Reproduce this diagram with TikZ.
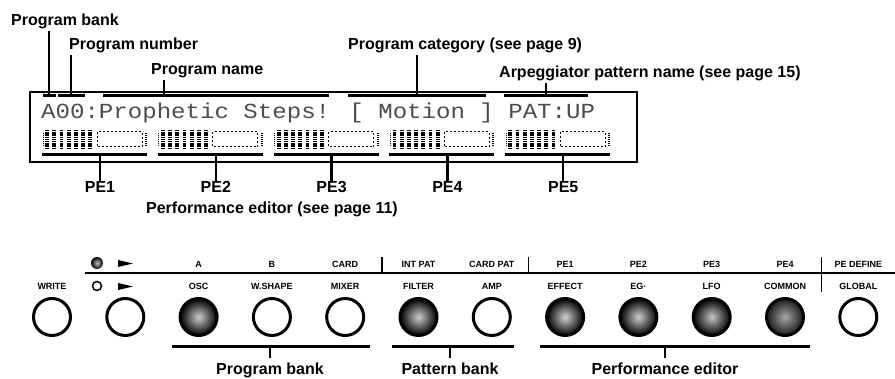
\documentclass[tikz,border=0pt]{standalone}
\usepackage{fontspec}
\setmainfont{Liberation Sans}
\newfontfamily\lcdfont[FakeStretch=1.12]{Liberation Mono}
\usetikzlibrary{positioning,calc}

\begin{document}
\begin{tikzpicture}[x=1pt, y=-1pt,
  lbl/.style={font=\fontsize{16}{18}\selectfont\bfseries, inner sep=1pt, anchor=base},
  key/.style={font=\fontsize{9}{10}\selectfont\bfseries, inner sep=0pt, anchor=base},
  ul/.style={fill, inner sep=0pt, minimum height=3pt, minimum width=#1},
  tick/.style={line width=2.5pt},
  rail/.style={line width=1.5pt},
  btn/.style 2 args={circle, draw, line width=3pt, minimum size=37pt, inner sep=0pt, inner color=#1, outer color=#2}]
  \useasboundingbox (0,0) rectangle (895,379);

  % display labels
  \node[lbl, anchor=base west] (pbank) at (10,26) {Program bank};
  \node[lbl, anchor=base west] (pnum) at (68,50) {Program number};
  \node[lbl, anchor=base west] (pname) at (150,75) {Program name};
  \node[lbl, anchor=base west] (pcat) at (347,50) {Program category (see page 9)};
  \node[lbl, anchor=base west] (parp) at (498,78) {Arpeggiator pattern name (see page 15)};

  % LCD
  \draw[line width=2pt] (30,92) rectangle (637,162);
  \node[anchor=base west, inner sep=0pt, text=black!70, font=\lcdfont\fontsize{21.5}{22}\selectfont]
    (lcd) at (41,119) {A00:Prophetic Steps! [ Motion ] PAT:UP};

  % display underlines
  \node[ul=13pt] (ubank) at (49,96) {};
  \node[ul=27pt] (unum) at (71,96) {};
  \node[ul=226pt] (uname) at (216,96) {};
  \node[ul=138pt] (ucat) at (417,96) {};
  \node[ul=84pt] (uarp) at (546,96) {};
  \coordinate (tname) at (164,96);
  \draw[tick] (pbank.south -| ubank) -- (ubank);
  \draw[tick] (pnum.south -| unum) -- (unum);
  \draw[tick] (pname.south -| tname) -- (tname);
  \draw[tick] (pcat.south -| ucat) -- (ucat);
  \draw[tick] (parp.south -| uarp) -- (uarp);

  % level meters
  \foreach \i in {1,...,5} {
    \pgfmathsetmacro{\s}{42+115.8*(\i-1)}
    \draw[line width=1pt, dash pattern=on 1pt off 1pt] (\s+1,133) -- (\s+1,146);
    \foreach \k in {0,...,6}
      \draw[line width=3.8pt, dash pattern=on 1.5pt off 0.7pt] (\s+5+\k*7.2,130) -- (\s+5+\k*7.2,148);
    \draw[line width=1pt, dash pattern=on 2pt off 2pt] (\s+55,132) rectangle (\s+100,147);
    \draw[line width=2pt, dash pattern=on 1pt off 1pt] (\s+104,133) -- (\s+104,147);
    \node[ul=105pt] (m\i) at (\s+52.5,155) {};
    \node[lbl] (pe\i) at (\s+58,193) {PE\i};
    \draw[tick] (m\i.center -| pe\i) -- (pe\i.north);
  }
  \node[lbl] (perf) at (272,214) {Performance editor (see page 11)};

  % front panel keys
  \foreach \ci/\co [count=\i from 0] in {white/white, white/white, gray!40/black, white/white, white/white,
      gray!40/black, white/white, gray!35/black, gray!40/black, gray!45/black, gray!70/black!90, white/white}
    \node[btn={\ci}{\co}] (k\i) at (52+73.3*\i,317) {};
  \foreach \nm/\i in {WRITE/0, OSC/2, W.SHAPE/3, MIXER/4, FILTER/5, AMP/6, EFFECT/7, EG·/8, LFO/9, COMMON/10, GLOBAL/11}
    \node[key] (lo\i) at (k\i |- 0,290) {\nm};
  \foreach \nm/\i in {A/2, B/3, CARD/4, INT PAT/5, CARD PAT/6, PE1/7, PE2/8, PE3/9, PE4/10, PE DEFINE/11}
    \node[key] (hi\i) at (k\i |- 0,268) {\nm};

  % record / play marks
  \node[circle, inner sep=0pt, minimum size=12pt, inner color=gray!50, outer color=black] (rec) at (97,263) {};
  \node[circle, draw, line width=1.5pt, inner sep=0pt, minimum size=9pt] (stop) at (97,286) {};
  \fill (118,260) -- (133,263.5) -- (118,267) -- cycle;
  \fill (118,283) -- (133,286.5) -- (118,290) -- cycle;

  % mode rail
  \coordinate (s1) at ($(k4)!.5!(k5)$);
  \coordinate (s2) at ($(k6)!.5!(k7)$);
  \coordinate (s3) at ($(k10)!.5!(k11)$);
  \draw[rail] (85,273) -- (895,273);
  \draw[rail] (s1 |- 0,257) -- (s1 |- 0,273);
  \draw[rail] (s2 |- 0,257) -- (s2 |- 0,273);
  \draw[rail] (s3 |- 0,257) -- (s3 |- 0,292);

  % key groups
  \node[ul=198pt] (gprog) at (271,347) {};
  \node[ul=122pt] (gpat) at (453,347) {};
  \node[ul=270pt] (gperf) at (675,347) {};
  \node[lbl] (lprog) at (270,375) {Program bank};
  \node[lbl] (lpat) at (450,375) {Pattern bank};
  \node[lbl] (lperf) at (665,375) {Performance editor};
  \draw[tick] (gprog.center -| lprog) -- ([yshift=4pt]lprog.north);
  \draw[tick] (gpat.center -| lpat) -- ([yshift=4pt]lpat.north);
  \draw[tick] (gperf.center -| lperf) -- ([yshift=4pt]lperf.north);
\end{tikzpicture}
\end{document}
